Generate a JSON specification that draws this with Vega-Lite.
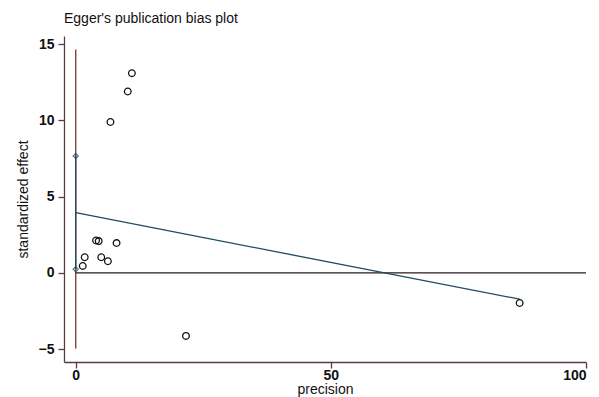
{
  "$schema": "https://vega.github.io/schema/vega-lite/v6.json",
  "width": 522,
  "height": 326,
  "autosize": {"type": "none"},
  "padding": {"left": 64, "top": 36, "right": 13, "bottom": 35},
  "background": "white",
  "title": {"text": "Egger's publication bias plot", "anchor": "start", "frame": "group", "font": "Liberation Sans", "fontSize": 14, "fontWeight": "normal", "color": "#111111", "offset": 10},
  "config": {
    "view": {"stroke": null},
    "axis": {"grid": false, "domainColor": "#5a3c3c", "tickColor": "#5a3c3c", "domainWidth": 1.3, "tickWidth": 1.3, "tickSize": 6, "labelFont": "Liberation Sans", "labelFontSize": 14, "labelFontWeight": "bold", "labelColor": "#111111", "titleFont": "Liberation Sans", "titleFontSize": 14, "titleFontWeight": "normal", "titleColor": "#111111"}
  },
  "datasets": {
    "studies": [
      {"precision": 3.98, "effect": 2.13},
      {"precision": 4.5, "effect": 2.09},
      {"precision": 8.0, "effect": 1.96},
      {"precision": 1.76, "effect": 1.03},
      {"precision": 5.0, "effect": 1.03},
      {"precision": 6.3, "effect": 0.77},
      {"precision": 1.37, "effect": 0.46},
      {"precision": 11.0, "effect": 13.1},
      {"precision": 10.2, "effect": 11.9},
      {"precision": 6.8, "effect": 9.9},
      {"precision": 21.6, "effect": -4.13},
      {"precision": 87.0, "effect": -1.97}
    ],
    "fit": [
      {"precision": 0, "effect": 3.95},
      {"precision": 87.0, "effect": -1.72}
    ],
    "ci": [
      {"precision": 0, "lo": 0.24, "hi": 7.67}
    ],
    "ciends": [
      {"precision": 0, "effect": 0.24},
      {"precision": 0, "effect": 7.67}
    ],
    "vline": [
      {"precision": 0, "lo": -4.95, "hi": 14.65}
    ],
    "hline": [
      {"from": 0, "to": 100, "effect": 0}
    ]
  },
  "layer": [
    {
      "data": {"name": "vline"},
      "mark": {"type": "rule", "color": "#7a2f35", "strokeWidth": 1.3},
      "encoding": {
        "x": {"field": "precision", "type": "quantitative", "scale": {"domain": [-2.3, 100], "nice": false, "zero": false}, "axis": {"values": [0, 50, 100], "title": "precision", "titleY": 31.5, "titleBaseline": "alphabetic", "labelPadding": 0}},
        "y": {"field": "lo", "type": "quantitative", "scale": {"domain": [-5.84, 15.54], "nice": false, "zero": false}, "axis": {"values": [-5, 0, 5, 10, 15], "title": "standardized effect", "titlePadding": 8, "labelPadding": 4}},
        "y2": {"field": "hi"}
      }
    },
    {
      "data": {"name": "hline"},
      "mark": {"type": "rule", "color": "#2a1a1a", "strokeWidth": 1.2},
      "encoding": {
        "x": {"field": "from", "type": "quantitative"},
        "x2": {"field": "to"},
        "y": {"field": "effect", "type": "quantitative"}
      }
    },
    {
      "data": {"name": "ci"},
      "mark": {"type": "rule", "color": "#1e4a63", "strokeWidth": 1.3},
      "encoding": {
        "x": {"field": "precision", "type": "quantitative"},
        "y": {"field": "lo", "type": "quantitative"},
        "y2": {"field": "hi"}
      }
    },
    {
      "data": {"name": "ciends"},
      "mark": {"type": "point", "shape": "diamond", "filled": false, "color": "#1e4a63", "size": 26, "strokeWidth": 1.3},
      "encoding": {
        "x": {"field": "precision", "type": "quantitative"},
        "y": {"field": "effect", "type": "quantitative"}
      }
    },
    {
      "data": {"name": "fit"},
      "mark": {"type": "line", "color": "#1e4a63", "strokeWidth": 1.3},
      "encoding": {
        "x": {"field": "precision", "type": "quantitative"},
        "y": {"field": "effect", "type": "quantitative"}
      }
    },
    {
      "data": {"name": "studies"},
      "mark": {"type": "point", "shape": "circle", "filled": false, "color": "#111111", "size": 44, "strokeWidth": 1.3, "opacity": 1},
      "encoding": {
        "x": {"field": "precision", "type": "quantitative"},
        "y": {"field": "effect", "type": "quantitative"}
      }
    }
  ]
}
